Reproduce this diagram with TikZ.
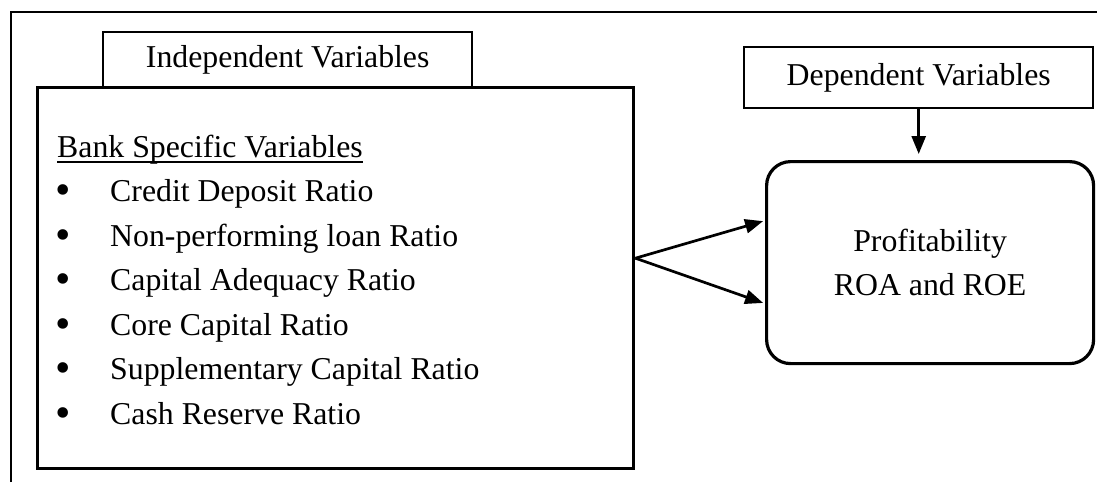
\documentclass[tikz,border=0pt]{standalone}
\usepackage{fontspec}
\setmainfont{Liberation Serif}
\usetikzlibrary{arrows.meta,positioning}

% underlined heading: 2pt rule about 5pt under the baseline
\newcommand{\uln}[1]{\setbox0\hbox{#1}\rlap{\rule[-6pt]{\wd0}{2pt}}\box0}
% bullet of the list, then the gap before the item text
\newcommand{\bul}{\makebox[12pt]{\raisebox{-3pt}{\fontsize{44}{44}\selectfont\textbullet}}\hspace{41pt}}

\tikzset{
  frame/.style={draw, line width=2pt},
  labelbox/.style={draw, line width=2.4pt, inner sep=0pt},
  mainbox/.style={draw, line width=3.4pt, inner sep=0pt},
  resultbox/.style={draw, line width=3.2pt, rounded corners=24pt, inner sep=0pt, align=center},
  link/.style={line width=2.7pt, -{Triangle[length=18pt,width=14pt]}}
}

\begin{document}
\begin{tikzpicture}[x=1pt,y=-1pt,font=\fontsize{31.8}{44.5}\selectfont]
  \useasboundingbox (0,0) rectangle (1097,482);

  % page frame, open to the right and at the bottom
  \coordinate (fl) at (11,482);
  \coordinate (fr) at (1097,12);
  \draw[frame] (fl) |- (fr);

  % independent side
  \node[labelbox, minimum width=369, minimum height=55, anchor=north west] (indep) at (102,31) {Independent Variables};
  \node[mainbox, minimum width=596, minimum height=381, anchor=north west] (bank) at (36,86) {};
  % base of the last line
  \node[anchor=base west, inner sep=0pt, align=left] (vars) at (57,424)
    {\uln{Bank Specific Variables}\\
     \bul Credit Deposit Ratio\\
     \bul Non-performing loan Ratio\\
     \bul Capital Adequacy Ratio\\
     \bul Core Capital Ratio\\
     \bul Supplementary Capital Ratio\\
     \bul Cash Reserve Ratio};

  % dependent side
  \node[labelbox, minimum width=349, minimum height=61, anchor=north west] (dep) at (743,46) {Dependent Variables};
  \node[resultbox, minimum width=327, minimum height=202, anchor=north west] (profit) at (765,160)
    {Profitability\\ROA and ROE};

  \coordinate (split) at ([yshift=20pt]bank.east);
  \draw[link, shorten >=2pt] (split) -- ([yshift=42pt]profit.west);
  \draw[link, shorten >=2pt] (split) -- ([yshift=-41pt]profit.west);
  \draw[link, shorten >=6pt] (dep.south) -- (dep.south |- profit.north);
\end{tikzpicture}
\end{document}
